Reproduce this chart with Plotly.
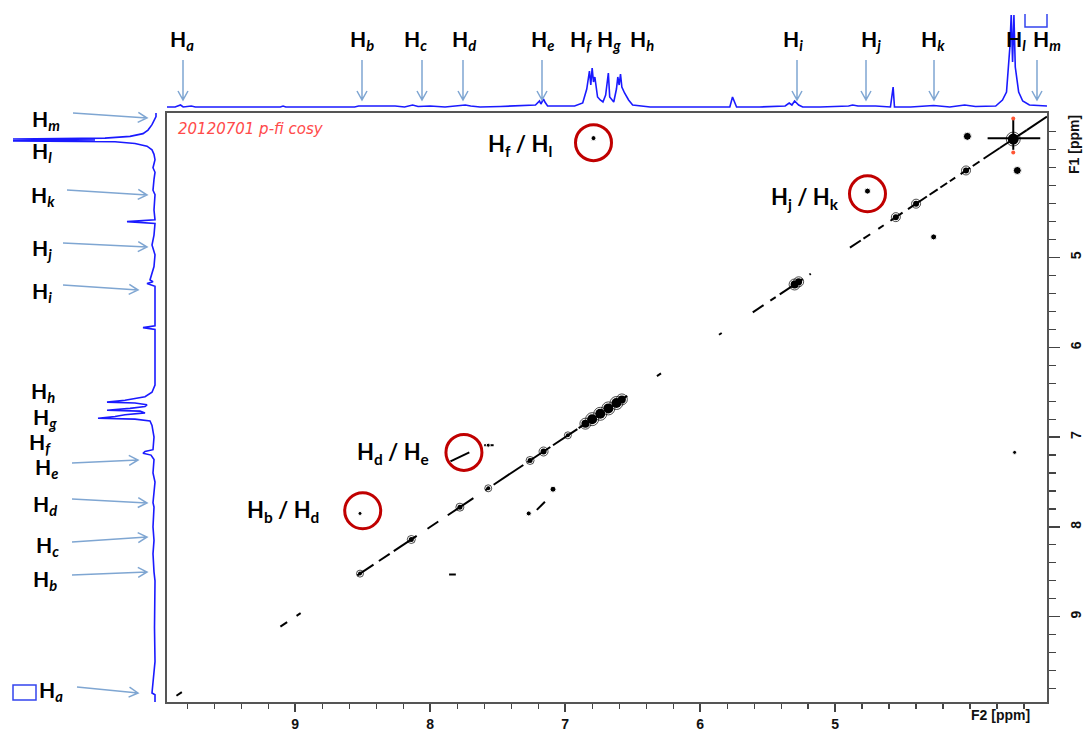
import numpy as np
import plotly.graph_objects as go

W, H = 1088, 729

# ---------------- data ----------------
# 1D proton spectrum shown above the map (ppm, intensity in arbitrary units)
top_ppm = [9.95, 9.89, 9.85, 9.83, 9.77, 9.74, 9.33, 9.11, 9.09, 9.07, 8.74, 8.56, 8.53, 8.50, 8.44,
           8.33, 8.26, 8.19, 8.13, 8.09, 8.00, 7.89, 7.78, 7.74, 7.70, 7.63, 7.48, 7.33, 7.22, 7.19,
           7.18, 7.16, 7.15, 7.13, 7.07, 6.93, 6.87, 6.85, 6.84, 6.82, 6.81, 6.80, 6.79, 6.78, 6.76,
           6.74, 6.72, 6.70, 6.68, 6.67, 6.64, 6.62, 6.61, 6.60, 6.59, 6.58, 6.56, 6.53, 6.50, 6.37,
           6.00, 5.78, 5.76, 5.73, 5.56, 5.37, 5.34, 5.32, 5.30, 5.27, 5.24, 5.11, 4.90, 4.87, 4.83,
           4.70, 4.59, 4.57, 4.56, 4.44, 4.27, 4.15, 4.04, 3.96, 3.81, 3.76, 3.73, 3.72, 3.705, 3.695,
           3.685, 3.675, 3.665, 3.64, 3.61, 3.56, 3.50, 3.47, 3.43]
top_int = [0, 0, 2, 0, 1, 0, 0, 0, 1, 0, 0, 0, 1, 1, 1,
           0.5, 1, 0, 2, 0.5, 1, 0, 1, 2, 1, 0, 0.5, 1, 2, 6,
           3, 8, 5, 1, 1, 1, 4, 12, 18, 36, 22, 39, 25, 30, 10,
           7, 5, 12, 34, 10, 5, 18, 30, 22, 33, 20, 14, 7, 2, 0,
           0, 0, 10, 0, 0, 1, 4, 2, 6, 2, 0, 0, 1, 2, 1,
           1, 0, 20, 0, 0, 1.5, 0, 2, 0.5, 1, 7, 15, 30, 60, 93,
           45, 92, 40, 15, 6, 2, 1.5, 2, 1]

# 1D proton spectrum shown left of the map (ppm, intensity)
left_ppm = [3.39, 3.43, 3.52, 3.58, 3.62, 3.65, 3.67, 3.68, 3.69, 3.70, 3.71, 3.73, 3.76, 3.80, 3.85,
            3.91, 4.00, 4.05, 4.13, 4.25, 4.30, 4.47, 4.58, 4.60, 4.62, 4.75, 4.86, 4.97, 5.10, 5.25,
            5.27, 5.29, 5.32, 5.50, 5.76, 5.78, 5.80, 6.00, 6.42, 6.50, 6.55, 6.59, 6.61, 6.62, 6.64,
            6.66, 6.68, 6.70, 6.71, 6.73, 6.75, 6.77, 6.79, 6.80, 6.82, 6.87, 7.00, 7.14, 7.16, 7.18,
            7.20, 7.25, 7.40, 7.50, 7.73, 7.78, 8.00, 8.15, 8.30, 8.50, 8.60, 9.12, 9.50, 9.85, 9.87,
            9.95]
left_int = [-1, -1, 3, 7, 12, 25, 50, 142, 60, 142, 40, 20, 8, 3, 1,
            0, 2, 0, 1, 2, 0, 1, 0, 28, 0, 1, 3, 0, 1, 5,
            2, 8, 0, 0, 0, 12, 0, 0, 0, 3, 10, 30, 48, 20, 8,
            10, 25, 48, 15, 10, 30, 40, 57, 20, 5, 3, 1, 2, 10, 12,
            4, 1, 2, 0, 2, 1, 2, 1, 2, 1, 0, 0.5, 0, 3, 0,
            0]

# COSY map: diagonal contour pieces (ppm start -> ppm end along F1 = F2)
diag_start = [9.88, 9.11, 8.99, 8.54, 8.38, 8.27, 8.02, 7.87, 7.59, 7.53, 7.28, 7.09, 6.90, 6.66, 6.32,
              5.86, 5.61, 5.48, 5.41, 5.19, 4.89, 4.79, 4.68, 4.59, 4.46, 4.30, 4.22, 4.15, 4.07, 3.98,
              3.90, 3.78, 3.58]
diag_end = [9.84, 9.06, 8.96, 8.42, 8.30, 8.10, 7.94, 7.68, 7.56, 7.31, 7.11, 6.91, 6.72, 6.54, 6.29,
            5.84, 5.53, 5.44, 5.24, 5.18, 4.81, 4.74, 4.64, 4.50, 4.32, 4.24, 4.17, 4.11, 4.00, 3.93,
            3.78, 3.58, 3.43]
# stronger diagonal blobs (ppm, relative size)
blob_ppm = [8.52, 8.14, 7.78, 7.57, 7.26, 7.16, 6.98, 6.85, 6.80, 6.74, 6.68, 6.62, 6.58,
            5.30, 5.27, 4.55, 4.40, 4.03, 3.68]
blob_size = [4, 5, 5, 4, 5, 6, 4, 8, 10, 10, 10, 10, 8, 8, 7, 6, 6, 6, 11]

# off-diagonal cross peaks (F2 ppm, F1 ppm, relative size)
cross_x = [6.79, 4.76, 4.02, 3.65, 4.27, 7.57, 7.09, 7.27, 8.52, 3.67]
cross_y = [3.67, 4.26, 3.65, 4.03, 4.77, 7.09, 7.58, 7.85, 7.85, 7.17]
cross_size = [5, 6, 8, 8, 6, 4, 6, 5, 4, 4]
# elongated cross peaks / t1 streaks (F2 start, F1 start, F2 end, F1 end)
streak_x0 = [7.85, 7.21, 7.86, 7.60, 3.87, 3.68]
streak_y0 = [7.27, 7.81, 8.53, 7.09, 3.67, 3.44]
streak_x1 = [7.71, 7.15, 7.81, 7.53, 3.48, 3.68]
streak_y1 = [7.17, 7.72, 8.53, 7.09, 3.67, 3.80]
# negative contour levels (red)
neg_x = [3.68, 3.68]
neg_y = [3.45, 3.83]

# highlighted correlations
pair_labels = ["H<sub>f</sub> / H<sub>l</sub>", "H<sub>j</sub> / H<sub>k</sub>",
               "H<sub>d</sub> / H<sub>e</sub>", "H<sub>b</sub> / H<sub>d</sub>"]
pair_cx = [6.79, 4.76, 7.75, 8.50]
pair_cy = [3.72, 4.29, 7.17, 7.82]

proton_letters = ["a", "b", "c", "d", "e", "f", "g", "h", "i", "j", "k", "l", "m"]

x_tickvals = [4, 5, 6, 7, 8, 9]
x_ticktext = ["", "5", "6", "7", "8", "9"]
y_tickvals = [4, 5, 6, 7, 8, 9]
y_ticktext = ["", "5", "6", "7", "8", "9"]

# ---------------- layout helpers ----------------
def px(x):
    return x / W


def py(y):
    return 1 - y / H


X_RANGE = [9.95, 3.43]
Y_RANGE = [9.95, 3.39]
XDOM = [px(167), px(1047)]
YDOM = [py(702), py(113)]

fig = go.Figure()

# 1D spectra
fig.add_trace(go.Scatter(x=top_ppm, y=top_int, mode="lines", xaxis="x2", yaxis="y2",
                         line=dict(color="#1a1aff", width=1.6), hoverinfo="skip"))
fig.add_trace(go.Scatter(x=left_int, y=left_ppm, mode="lines", xaxis="x3", yaxis="y3",
                         line=dict(color="#1a1aff", width=1.6), hoverinfo="skip"))

# diagonal pieces
dx, dy = [], []
for a, b in zip(diag_start, diag_end):
    dx += [a, b, None]
    dy += [a, b, None]
fig.add_trace(go.Scatter(x=dx, y=dy, mode="lines", line=dict(color="black", width=2.0),
                         hoverinfo="skip"))
fig.add_trace(go.Scatter(x=blob_ppm, y=blob_ppm, mode="markers",
                         marker=dict(color="black", size=blob_size, line=dict(width=0), opacity=1),
                         hoverinfo="skip"))
fig.add_trace(go.Scatter(x=blob_ppm, y=blob_ppm, mode="markers",
                         marker=dict(color="black", symbol="circle-open",
                                     size=[s + 3 for s in blob_size],
                                     line=dict(color="black", width=1)),
                         hoverinfo="skip"))
# streaks
sx, sy = [], []
for a, b, c, d in zip(streak_x0, streak_y0, streak_x1, streak_y1):
    sx += [a, c, None]
    sy += [b, d, None]
fig.add_trace(go.Scatter(x=sx, y=sy, mode="lines", line=dict(color="black", width=2.0),
                         hoverinfo="skip"))
fig.add_trace(go.Scatter(x=cross_x, y=cross_y, mode="markers",
                         marker=dict(color="black", size=cross_size, opacity=1), hoverinfo="skip"))
fig.add_trace(go.Scatter(x=neg_x, y=neg_y, mode="markers",
                         marker=dict(color="#ff5533", size=4), hoverinfo="skip"))

shapes = []
# red circles
for cx, cy in zip(pair_cx, pair_cy):
    shapes.append(dict(type="circle", xref="x", yref="y", xsizemode="pixel", ysizemode="pixel",
                       xanchor=cx, yanchor=cy, x0=-18, x1=18, y0=-18, y1=18,
                       line=dict(color="#c00000", width=3)))


def arrow_path(x0, y0, x1, y1, L=9, w=5):
    ux, uy = x1 - x0, y1 - y0
    n = (ux ** 2 + uy ** 2) ** 0.5
    ux, uy = ux / n, uy / n
    nx, ny = -uy, ux
    bx, by = x1 - L * ux, y1 - L * uy
    h1 = (bx + w * nx, by + w * ny)
    h2 = (bx - w * nx, by - w * ny)
    return ("M {:.5f},{:.5f} L {:.5f},{:.5f} M {:.5f},{:.5f} L {:.5f},{:.5f} L {:.5f},{:.5f}".format(
        px(x0), py(y0), px(x1), py(y1),
        px(h1[0]), py(h1[1]), px(x1), py(y1), px(h2[0]), py(h2[1])))


arrow_col = "#7fa6d2"
# top arrows (label -> x pixel)
top_arrows = {"a": 183, "b": 362, "c": 422, "d": 463, "e": 542, "i": 797, "j": 866, "k": 934, "m": 1037}
for k, xx in top_arrows.items():
    shapes.append(dict(type="path", xref="paper", yref="paper", path=arrow_path(xx, 60, xx, 100),
                       line=dict(color=arrow_col, width=1.5)))
left_arrows = {"m": (73, 113, 147, 118), "k": (67, 190, 147, 195), "j": (63, 243, 147, 247),
               "i": (63, 285, 138, 290), "e": (72, 463, 138, 460), "d": (72, 499, 147, 503),
               "c": (72, 542, 147, 537), "b": (72, 575, 147, 572), "a": (77, 687, 138, 693)}
for k, (a, b, c, d) in left_arrows.items():
    shapes.append(dict(type="path", xref="paper", yref="paper", path=arrow_path(a, b, c, d),
                       line=dict(color=arrow_col, width=1.5)))

# blue bracket (top right) and small box (bottom left)
shapes.append(dict(type="path", xref="paper", yref="paper",
                   path="M {},{} L {},{} L {},{} L {},{}".format(px(1025), py(14), px(1025), py(27),
                                                                 px(1047), py(27), px(1047), py(14)),
                   line=dict(color="#3344ee", width=1.5)))
shapes.append(dict(type="rect", xref="paper", yref="paper", x0=px(13), x1=px(36), y0=py(700), y1=py(685),
                   line=dict(color="#3344ee", width=1.5)))

annotations = []
lab_font = dict(family="Lato", size=21, color="black")
top_label_x = {"a": 182, "b": 362, "c": 415, "d": 464, "e": 542, "f": 581, "g": 609, "h": 642,
               "i": 793, "j": 871, "k": 933, "l": 1016, "m": 1047}
for k in proton_letters:
    annotations.append(dict(x=px(top_label_x[k]), y=py(40), xref="paper", yref="paper",
                            text="<b>H<sub><i>%s</i></sub></b>" % k, showarrow=False,
                            xanchor="center", yanchor="middle", font=lab_font))
left_label_pos = {"m": (46, 120), "l": (42, 152), "k": (43, 196), "j": (42, 249), "i": (42, 292),
                  "h": (43, 392), "g": (45, 418), "f": (40, 443), "e": (46, 468), "d": (45, 505),
                  "c": (47, 546), "b": (45, 580), "a": (51, 691)}
for k in proton_letters:
    xx, yy = left_label_pos[k]
    annotations.append(dict(x=px(xx), y=py(yy), xref="paper", yref="paper",
                            text="<b>H<sub><i>%s</i></sub></b>" % k, showarrow=False,
                            xanchor="center", yanchor="middle", font=lab_font))

pair_label_pos = [(520, 145), (805, 198), (393, 453), (283, 511)]
for t, (xx, yy) in zip(pair_labels, pair_label_pos):
    annotations.append(dict(x=px(xx), y=py(yy), xref="paper", yref="paper", text="<b>%s</b>" % t,
                            showarrow=False, xanchor="center", yanchor="middle",
                            font=dict(family="Lato", size=22, color="black")))

annotations.append(dict(x=px(176), y=py(129), xref="paper", yref="paper",
                        text="<i>20120701 p-fi cosy</i>", showarrow=False, xanchor="left",
                        yanchor="middle", font=dict(family="DejaVu Sans", size=15, color="#ff4a4a")))
annotations.append(dict(x=px(1000), y=py(715), xref="paper", yref="paper", text="<b>F2 [ppm]</b>",
                        showarrow=False, xanchor="center", yanchor="middle",
                        font=dict(family="Liberation Sans", size=14, color="#111")))
annotations.append(dict(x=px(1074), y=py(145), xref="paper", yref="paper", text="<b>F1 [ppm]</b>",
                        showarrow=False, xanchor="center", yanchor="middle", textangle=-90,
                        font=dict(family="Liberation Sans", size=14, color="#111")))

minor_vals = [round(v, 1) for v in np.arange(3.6, 10.0, 0.2)]
tick_font = dict(family="Liberation Sans", size=14, color="#111", weight="bold")

fig.update_layout(
    width=W, height=H, margin=dict(l=0, r=0, t=0, b=0, autoexpand=False),
    paper_bgcolor="white", plot_bgcolor="white", showlegend=False,
    xaxis=dict(domain=XDOM, range=X_RANGE, anchor="y", side="bottom", showgrid=False, zeroline=False,
               showline=True, linecolor="#555", linewidth=2, mirror=True, automargin=False,
               tickmode="array", tickvals=x_tickvals, ticktext=x_ticktext, ticks="outside",
               ticklen=8, tickwidth=1.5, tickcolor="#444", tickfont=tick_font, ticklabelstandoff=0,
               minor=dict(tickmode="array", tickvals=minor_vals, ticks="outside", ticklen=5,
                          tickwidth=1.2, tickcolor="#444", showgrid=False)),
    yaxis=dict(domain=YDOM, range=Y_RANGE, anchor="x", side="right", showgrid=False, zeroline=False,
               showline=True, linecolor="#555", linewidth=2, mirror=True, automargin=False,
               tickmode="array", tickvals=y_tickvals, ticktext=y_ticktext, ticks="outside",
               ticklen=11, tickwidth=1.5, tickcolor="#444", tickfont=tick_font, tickangle=-90,
               ticklabelstandoff=4,
               minor=dict(tickmode="array", tickvals=minor_vals, ticks="outside", ticklen=7,
                          tickwidth=1.2, tickcolor="#444", showgrid=False)),
    xaxis2=dict(domain=XDOM, range=X_RANGE, anchor="y2", visible=False),
    yaxis2=dict(domain=[py(109), py(15)], range=[-2, 92], anchor="x2", visible=False),
    xaxis3=dict(domain=[0, px(160)], range=[155, -5], anchor="y3", visible=False),
    yaxis3=dict(domain=YDOM, range=Y_RANGE, anchor="x3", visible=False),
    shapes=shapes, annotations=annotations,
)

fig.write_html("out.html", config={"displayModeBar": False, "staticPlot": True},
               post_script="document.body.style.margin='0px';document.body.style.padding='0px';")
